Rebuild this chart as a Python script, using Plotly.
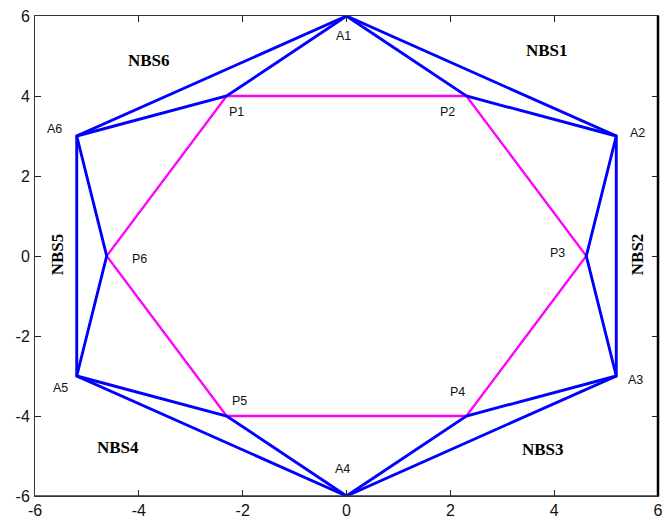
import plotly.graph_objects as go

# Outer hexagon vertices A1..A6
A_names = ["A1", "A2", "A3", "A4", "A5", "A6"]
A_x = [0.0, 5.196, 5.196, 0.0, -5.196, -5.196]
A_y = [6.0, 3.0, -3.0, -6.0, -3.0, 3.0]

# Inner hexagon vertices P1..P6
P_names = ["P1", "P2", "P3", "P4", "P5", "P6"]
P_x = [-2.309, 2.309, 4.619, 2.309, -2.309, -4.619]
P_y = [4.0, 4.0, 0.0, -4.0, -4.0, 0.0]

# Each P vertex is joined to the two outer vertices around it
P_links = [(5, 0), (0, 1), (1, 2), (2, 3), (3, 4), (4, 5)]

# Vertex label positions
A_lab_x = [-0.05, 5.6, 5.56, -0.08, -5.5, -5.62]
A_lab_y = [5.5, 3.08, -3.09, -5.33, -3.29, 3.17]
P_lab_x = [-2.11, 1.94, 4.06, 2.14, -2.07, -3.98]
P_lab_y = [3.61, 3.61, 0.075, -3.41, -3.625, -0.075]

# Sector labels
NBS_names = ["NBS1", "NBS2", "NBS3", "NBS4", "NBS5", "NBS6"]
NBS_x = [3.86, 5.6, 3.79, -4.4, -5.57, -3.8]
NBS_y = [5.15, 0.05, -4.83, -4.78, 0.05, 4.9]
NBS_angle = [0, -90, 0, 0, -90, 0]

ticks = [-6, -4, -2, 0, 2, 4, 6]

BLUE = "#0000FF"
MAGENTA = "#FF00FF"

fig = go.Figure()

# Inner hexagon (magenta)
fig.add_trace(go.Scatter(
    x=P_x + [P_x[0]], y=P_y + [P_y[0]], mode="lines",
    line=dict(color=MAGENTA, width=2.3), hoverinfo="skip"))

# Outer hexagon (blue)
fig.add_trace(go.Scatter(
    x=A_x + [A_x[0]], y=A_y + [A_y[0]], mode="lines",
    line=dict(color=BLUE, width=2.9), hoverinfo="skip"))

# A - P - A spokes (blue)
sx, sy = [], []
for i, (a, b) in enumerate(P_links):
    sx += [A_x[a], P_x[i], A_x[b], None]
    sy += [A_y[a], P_y[i], A_y[b], None]
fig.add_trace(go.Scatter(
    x=sx, y=sy, mode="lines",
    line=dict(color=BLUE, width=2.9), hoverinfo="skip"))

label_font = dict(family="Liberation Sans, Arial, sans-serif", size=12.5, color="#111111")
for n, x, y in zip(A_names + P_names, A_lab_x + P_lab_x, A_lab_y + P_lab_y):
    fig.add_annotation(x=x, y=y, text=n, showarrow=False, font=label_font,
                       xanchor="center", yanchor="middle")

nbs_font = dict(family="Liberation Serif, Times New Roman, serif", size=17, color="#000000")
for n, x, y, ang in zip(NBS_names, NBS_x, NBS_y, NBS_angle):
    fig.add_annotation(x=x, y=y, text="<b>" + n + "</b>", showarrow=False,
                       font=nbs_font, textangle=ang, xanchor="center", yanchor="middle")

axis_common = dict(
    range=[-6, 6], tickvals=ticks, ticktext=[str(t) for t in ticks],
    ticks="inside", ticklen=6, tickcolor="#222222", tickwidth=1,
    showline=True, linecolor="#333333", linewidth=1, mirror="ticks",
    showgrid=False, zeroline=False, automargin=False,
    tickfont=dict(family="Liberation Sans, Arial, sans-serif", size=16, color="#111111"),
)

fig.update_xaxes(**axis_common, ticklabelstandoff=0)
fig.update_yaxes(**axis_common, ticklabelstandoff=1)

# Heavier right and bottom frame edges
fig.add_shape(type="line", xref="paper", yref="paper", x0=1, x1=1, y0=0, y1=1,
              line=dict(color="#000000", width=2.5))
fig.add_shape(type="line", xref="paper", yref="paper", x0=0, x1=1, y0=0, y1=0,
              line=dict(color="#333333", width=1.5))

fig.update_layout(
    width=671, height=518,
    margin=dict(l=35, r=13, t=16, b=22),
    paper_bgcolor="white", plot_bgcolor="white",
    showlegend=False,
)

fig.write_html("out.html")
